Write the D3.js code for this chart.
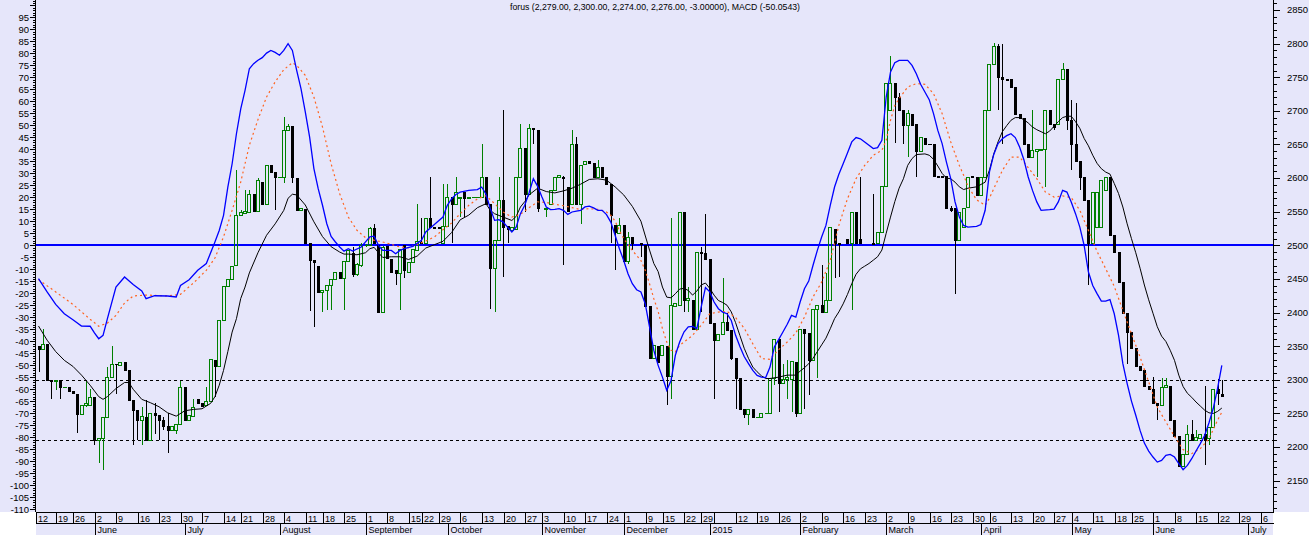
<!DOCTYPE html>
<html><head><meta charset="utf-8">
<script src="https://cdn.jsdelivr.net/npm/d3@7"></script>
<style>html,body{margin:0;padding:0;background:#fff}svg{display:block}</style>
</head><body>
<svg id="chart" width="1309" height="535"></svg>
<script>
// ---------------- DATA ----------------
const titleText = "forus (2,279.00, 2,300.00, 2,274.00, 2,276.00, -3.00000), MACD (-50.0543)";
const firstDay = "2014-05-12", lastAxisDay = "2015-07-07";
const holidays = ["2014-05-21","2014-07-16","2014-08-15","2014-09-18","2014-09-19","2014-10-31","2014-12-08","2014-12-25","2014-12-31","2015-01-01","2015-04-03","2015-05-01","2015-05-21"];
const noTradeDays = ["2014-09-26","2014-11-28"];
const hiddenWeekLabels = ["2015-01-05"];
const monthNames = ["January","February","March","April","May","June","July","August","September","October","November","December"];
const macdTicks = d3.range(-110, 96, 5);
const priceTicks = d3.range(2150, 2851, 50);
const refLevels = [2300, 2210];

const openV = [
2350,2346,2354,2300,2298,2300,2289,2290,2284,2279,
2249,2262,2262,2275,2211,2214,2244,2304,2324,2322,
2326,2314,2270,2255,2241,2245,2211,2250,2247,2240,
2232,2226,2226,2235,2289,2241,2246,2272,2266,2262,
2268,2330,2320,2389,2439,2450,2471,2545,2548,2550,
2576,2551,2594,2562,2620,2609,2602,2602,2671,2677,
2600,2553,2554,2504,2478,2469,2431,2433,2441,2450,
2460,2452,2476,2489,2457,2471,2500,2500,2526,2500,
2401,2499,2480,2463,2459,2500,2461,2475,2493,2505,
2503,2540,2527,2527,2503,2529,2572,2562,2570,2579,
2571,2572,2572,2572,2602,2562,2466,2508,2567,2529,
2523,2525,2602,2645,2577,2675,2671,null,2554,2562,
2582,2601,2602,2587,2562,2651,2562,2621,2626,2622,
2602,2617,2601,2591,2530,2519,2531,2476,2512,null,
2503,2500,2410,2332,2350,2337,2350,2305,2410,2411,
2550,2419,2419,2376,2490,2488,2480,2384,2359,2368,
2386,2374,2332,2302,2257,2249,2257,2244,2244,2251,
2251,2302,2360,2296,2301,2301,2327,2250,2376,2370,
2329,2406,2411,2401,2418,2525,2503,null,2510,2503,
2550,2510,null,null,2503,2503,2520,2588,2701,2741,
2721,2702,2679,2696,2680,2641,2660,2651,2650,2603,
2603,2603,2556,2555,2508,2528,2557,2603,2602,2575,
2602,2701,2769,2796,2751,2747,2747,2735,2696,2690,
2650,2632,2641,2642,2644,2701,2681,2681,2747,2762,
2686,2651,2626,2602,2568,2503,2528,2528,2582,2602,
2515,2490,2446,2400,2371,2347,2320,2314,2291,2287,
2266,2262,2290,2291,2241,2216,2172,2189,2220,2211,
2213,2220,2213,2230,2286,2279];
const highV = [
2350,2376,2354,2300,2300,2300,2290,2290,2284,2279,
2262,2299,2287,2275,2214,2244,2319,2350,2324,2326,
2326,2314,2270,2255,2259,2270,2250,2265,2247,2245,
2250,2232,2235,2299,2289,2247,2272,2272,2266,2290,
2331,2330,2389,2439,2450,2470,2612,2552,2582,2582,
2576,2600,2594,2620,2620,2609,2602,2691,2681,2677,
2600,2556,2554,2504,2478,2469,2433,2441,2450,2460,
2460,2476,2493,2498,2474,2503,2502,2527,2532,2500,
2499,2499,2480,2463,2495,2500,2475,2494,2562,2540,
2540,2602,2527,2527,2591,2591,2572,2601,2572,2579,
2572,2572,2572,2650,2602,2562,2508,2602,2701,2529,
2528,2602,2680,2645,2680,2675,2671,null,2556,2582,
2602,2604,2603,2587,2671,2661,2619,2626,2626,2622,
2627,2617,2601,2591,2530,2541,2531,2520,2512,null,
2503,2500,2410,2352,2350,2352,2350,2540,2415,2550,
2550,2438,2419,2490,2498,2547,2480,2384,2368,2451,
2399,2374,2332,2302,2257,2257,2257,2244,2250,2251,
2302,2360,2360,2324,2329,2328,2327,2376,2376,2370,
2406,2411,2471,2459,2527,2525,2503,null,2510,2550,
2550,2602,null,null,2577,2520,2588,2742,2781,2741,
2726,2702,2702,2696,2680,2661,2660,2651,2650,2603,
2603,2603,2558,2555,2550,2555,2602,2603,2602,2602,
2701,2769,2801,2800,2800,2747,2747,2735,2696,2690,
2650,2701,2643,2644,2702,2701,2681,2747,2771,2762,
2716,2712,2626,2602,2568,2580,2580,2597,2602,2602,
2515,2490,2446,2400,2371,2347,2320,2314,2291,2304,
2266,2302,2302,2291,2241,2216,2189,2233,2240,2225,
2220,2291,2230,2286,2301,2300];
const lowV = [
2312,2346,2300,2272,2285,2272,2289,2284,2280,2221,
2249,2260,2262,2203,2176,2166,2244,2304,2279,2322,
2314,2270,2203,2210,2203,2211,2211,2220,2211,2225,
2191,2226,2220,2235,2241,2241,2246,2266,2261,2262,
2268,2274,2320,2389,2439,2450,2471,2545,2548,2550,
2551,2551,2562,2562,2609,2552,2602,2592,2671,2593,
2552,2553,2504,2403,2379,2431,2401,2404,2404,2450,
2452,2404,2476,2453,2455,2468,2498,2500,2503,2401,
2401,2481,2461,2441,2404,2451,2461,2475,2493,2503,
2503,2527,2526,2526,2503,2529,2503,2562,2542,2542,
2571,2572,2572,2572,2562,2406,2401,2508,2453,2503,
2523,2525,2602,2550,2577,2651,2550,null,2542,2562,
2582,2601,2471,2551,2562,2562,2532,2621,2622,2602,
2602,2602,2591,2503,2464,2519,2476,2473,2493,null,
2483,2410,2332,2332,2327,2337,2262,2272,2410,2411,
2401,2401,2376,2376,2401,2480,2384,2272,2359,2368,
2374,2329,2257,2257,2243,2233,2244,2244,2244,2251,
2251,2292,2252,2296,2272,2252,2245,2250,2257,2277,
2329,2302,2401,2401,2418,2451,2453,null,2503,2404,
2503,2503,null,null,2502,2503,2520,2588,2701,2652,
2702,2651,2632,2679,2602,2641,2651,2650,2603,2602,
2602,2556,2550,2428,2508,2528,2557,2601,2575,2575,
2602,2701,2769,2701,2651,2746,2736,2696,2690,2651,
2632,2632,2602,2642,2587,2681,2671,2681,2747,2671,
2612,2626,2582,2568,2441,2503,2528,2528,2582,2515,
2490,2446,2400,2324,2347,2320,2314,2291,2287,2266,
2240,2262,2290,2241,2216,2172,2172,2189,2211,2211,
2213,2173,2203,2230,2262,2274];
const closeV = [
2346,2354,2300,2298,2300,2290,2290,2284,2280,2249,
2262,2265,2275,2211,2214,2244,2304,2324,2323,2326,
2314,2270,2255,2240,2246,2211,2250,2248,2240,2231,
2226,2232,2235,2289,2241,2247,2259,2266,2261,2268,
2331,2320,2389,2439,2450,2470,2545,2550,2551,2576,
2551,2597,2562,2620,2609,2602,2602,2671,2677,2602,
2552,2556,2504,2478,2475,2431,2433,2441,2450,2460,
2452,2476,2493,2458,2472,2500,2500,2526,2503,2401,
2498,2481,2461,2459,2495,2463,2475,2494,2506,2503,
2540,2527,2526,2526,2529,2572,2562,2579,2572,2571,
2572,2572,2572,2602,2562,2466,2508,2568,2528,2525,
2528,2602,2645,2577,2675,2673,2555,null,2556,2582,
2602,2604,2600,2551,2651,2562,2619,2626,2622,2602,
2617,2602,2591,2545,2520,2530,2476,2512,2503,null,
2502,2410,2332,2352,2327,2352,2305,2411,2415,2550,
2419,2422,2376,2490,2488,2480,2384,2359,2368,2386,
2374,2333,2302,2257,2249,2257,2244,2244,2250,2251,
2302,2360,2296,2301,2304,2328,2250,2376,2370,2329,
2406,2411,2401,2418,2527,2503,2502,null,2503,2550,
2503,2503,null,null,2502,2520,2588,2742,2741,2721,
2702,2679,2697,2679,2641,2661,2651,2650,2603,2602,
2602,2556,2552,2508,2550,2555,2602,2601,2575,2602,
2701,2769,2796,2751,2747,2746,2736,2696,2690,2651,
2632,2642,2643,2644,2702,2681,2676,2747,2762,2686,
2651,2626,2602,2568,2503,2580,2580,2597,2602,2515,
2490,2446,2400,2371,2347,2320,2314,2291,2287,2266,
2262,2290,2292,2241,2216,2172,2189,2220,2211,2215,
2220,2211,2230,2286,2280,2276];

// [trading-day index, value]
const macdLine = [[0,-13.9],[2,-19.4],[4,-24.6],[6,-28.5],[8,-31],[10,-33.6],[12,-33.7],[13,-36.5],[14,-38.9],[15,-37.5],[16,-30.6],[18,-17.4],[20,-13.2],[22,-16.3],[24,-19],[25,-22.2],[27,-21],[30,-21.1],[32,-21.5],[33,-16.7],[35,-14.3],[37,-10.4],[39,-7.6],[41,1.4],[42,6.2],[43,12.5],[44,24.3],[45,34],[46,46.5],[47,56.9],[48,64.6],[49,73.6],[50,75.7],[51,77.1],[52,78.2],[53,80.1],[54,81.2],[55,80.4],[56,79.2],[57,81.2],[58,84],[59,81.2],[60,72.9],[61,65.3],[62,55.6],[63,45.2],[64,32],[65,23.6],[66,16.7],[67,9],[68,3.7],[69,1.4],[70,-0.7],[71,-2.4],[72,-1.4],[73,-2.4],[75,-0.7],[77,3.5],[78,3.8],[79,0],[80,-2.1],[82,-2.1],[83,-3.5],[84,-2.1],[85,-1.4],[87,-0.4],[89,2.1],[90,5.6],[92,8.7],[94,11.8],[95,16.7],[96,19.4],[97,21.2],[98,22.2],[100,22.9],[102,23.2],[103,24.3],[104,21.3],[105,15.3],[106,10.4],[107,10.7],[108,9.7],[109,7.6],[110,5.6],[111,7.6],[112,13.2],[113,16.7],[114,21.8],[115,27.8],[116,24.6],[117,20.1],[118,16],[119,14.9],[120,15],[121,15.3],[122,14.6],[123,12.9],[124,13.9],[125,14.3],[126,14.6],[127,16],[128,16.3],[129,15.6],[130,14.6],[131,14.6],[132,12.8],[133,9.7],[134,4.2],[135,-1.4],[136,-6.3],[137,-11.8],[138,-16],[139,-18.5],[140,-19.4],[141,-24.3],[142,-34],[143,-43.8],[144,-50],[145,-54.9],[146,-60.4],[147,-56.3],[148,-45.8],[149,-40.3],[150,-36.1],[151,-34],[152,-33.8],[153,-34.7],[154,-25.7],[155,-17.6],[156,-19.4],[157,-23.6],[158,-26.4],[159,-27.8],[160,-28.5],[161,-31.3],[162,-37.5],[163,-42.1],[164,-46.3],[165,-49.3],[166,-52.1],[167,-54.2],[168,-54.9],[169,-55.1],[170,-50.7],[171,-42.4],[172,-39.3],[173,-36.1],[174,-32.9],[175,-29.2],[176,-29.9],[177,-23.6],[178,-18.1],[179,-14.9],[180,-8.3],[181,-2.1],[182,3.5],[183,8.3],[184,16.7],[185,24.3],[186,29.6],[187,34],[188,38.5],[189,43.1],[190,44.9],[191,44.4],[192,43.1],[193,41.7],[194,40.3],[195,40.7],[196,43.8],[197,61.8],[198,72.2],[199,76.1],[200,77.1],[202,77.1],[203,75],[204,71.5],[205,67.1],[206,63.9],[207,60.7],[208,54.9],[209,47.9],[210,42.4],[211,34.7],[212,27.8],[213,18.1],[214,11.8],[215,8.3],[216,7.6],[218,7.9],[219,8.7],[220,14.6],[221,30.6],[222,37.9],[223,42.4],[224,44.4],[225,45.7],[226,46.5],[227,44.9],[228,41],[229,35.7],[230,28.5],[231,22.9],[232,18.1],[233,14.6],[235,14.9],[236,15.1],[237,18.1],[238,22.9],[239,22.2],[240,18.1],[241,13.2],[242,7.6],[243,0],[244,-11.1],[245,-16.7],[246,-20.1],[247,-23.2],[248,-23.2],[249,-22.6],[250,-28.5],[251,-37.5],[252,-49.3],[253,-57.6],[254,-64.9],[255,-70.8],[256,-77.1],[257,-82.4],[258,-85.7],[259,-88.2],[260,-90.3],[261,-89.6],[262,-87.5],[263,-87.1],[264,-88.2],[265,-91],[266,-93.5],[267,-91.7],[268,-88.9],[269,-85.7],[270,-82.6],[271,-79.2],[272,-74],[273,-68],[274,-59.7],[275,-50.05]];
const signalLine = [[0,-14.3],[4,-19.4],[8,-24.6],[12,-30.8],[14,-33.7],[16,-32.4],[18,-29.2],[20,-24],[22,-21.1],[25,-20.7],[30,-21.1],[33,-20.4],[36,-15.7],[39,-10.4],[41,-5.3],[43,3.5],[45,14.6],[47,26.4],[49,41.7],[51,52.4],[53,61.8],[55,68.1],[57,73.2],[59,76.1],[60,75],[62,70.8],[64,61.8],[66,49.3],[68,34],[70,21.5],[72,11.8],[74,6.3],[76,3.2],[78,2.1],[80,1.4],[82,0.4],[84,-0.7],[86,-1],[88,0.4],[90,1.8],[92,3.5],[94,6.5],[96,9.3],[98,13.2],[100,16.7],[102,19.4],[104,20.7],[106,17.4],[108,13.9],[110,11.8],[112,12.9],[114,15.7],[116,18.1],[118,17.9],[120,17.1],[122,16.5],[124,15.7],[126,14.9],[128,15.3],[130,15],[132,13.9],[133,12.5],[134,10.1],[135,6.2],[136,2.8],[138,-2.1],[140,-6.3],[141,-10.4],[142,-16],[143,-22.2],[144,-27.5],[145,-34.7],[146,-40.3],[147,-43.7],[148,-44.4],[149,-41.7],[150,-40.3],[152,-37.5],[154,-33.3],[156,-28.5],[158,-27.8],[160,-27.5],[162,-30.1],[164,-34.5],[166,-41],[168,-47.2],[170,-47.5],[172,-43.5],[174,-40.3],[176,-36.5],[178,-29.9],[180,-21.5],[182,-15.3],[184,-6.3],[186,8.3],[188,19.4],[190,27.8],[192,33.3],[194,37.5],[196,39.6],[197,43.8],[198,52.1],[199,58.3],[200,61.1],[202,66],[204,67.4],[206,67.1],[208,63.2],[210,54.9],[212,43.1],[214,33.3],[215,29.2],[216,24.6],[218,19],[220,16.7],[221,19.7],[222,23.6],[224,31.2],[226,36.8],[228,36.8],[230,32.4],[232,27.8],[234,22.2],[236,20.1],[238,20.6],[240,19.9],[242,14.6],[244,6.2],[246,-2.5],[248,-9.7],[250,-17.1],[252,-27.1],[254,-36.8],[256,-46.5],[258,-56.9],[260,-67.4],[262,-73.6],[264,-79.6],[266,-85.1],[268,-86.8],[270,-84.7],[272,-80.6],[274,-72.9],[275,-69.5]];
const avgLine = [[0,2380],[2,2359],[4,2342],[6,2329],[8,2320],[10,2307],[12,2292],[14,2275],[15,2271],[16,2275],[18,2287],[20,2296],[21,2296],[22,2286],[24,2271],[26,2266],[28,2260],[30,2251],[32,2246],[34,2254],[36,2256],[38,2257],[40,2265],[41,2275],[42,2292],[43,2314],[44,2342],[45,2371],[46,2391],[47,2421],[48,2438],[49,2459],[51,2489],[53,2515],[55,2532],[57,2552],[58,2570],[59,2576],[60,2575],[62,2560],[64,2535],[66,2513],[68,2498],[70,2490],[71,2487],[72,2487],[74,2486],[76,2489],[77,2495],[78,2497],[79,2489],[80,2482],[82,2483],[84,2483],[86,2479],[88,2484],[90,2496],[92,2501],[94,2506],[96,2519],[98,2538],[100,2545],[102,2556],[104,2562],[105,2552],[106,2547],[108,2542],[110,2537],[111,2543],[112,2557],[113,2565],[114,2575],[116,2585],[118,2580],[120,2578],[122,2581],[124,2585],[126,2591],[128,2598],[130,2599],[132,2597],[134,2587],[136,2575],[138,2558],[140,2536],[142,2493],[143,2473],[144,2461],[145,2438],[146,2423],[147,2422],[148,2428],[149,2435],[150,2436],[151,2433],[152,2426],[153,2432],[154,2441],[155,2444],[156,2436],[157,2426],[158,2418],[159,2415],[160,2411],[161,2401],[162,2385],[163,2366],[164,2347],[165,2332],[166,2319],[167,2312],[168,2306],[169,2302],[170,2302],[172,2304],[174,2307],[176,2307],[177,2313],[178,2318],[179,2324],[180,2332],[181,2342],[182,2352],[183,2362],[184,2376],[185,2391],[186,2401],[187,2413],[188,2427],[189,2443],[190,2457],[191,2465],[192,2469],[193,2473],[194,2478],[195,2483],[196,2493],[197,2518],[198,2542],[199,2565],[200,2585],[201,2599],[202,2619],[203,2629],[204,2635],[206,2636],[207,2634],[208,2628],[209,2618],[210,2607],[211,2600],[212,2599],[213,2594],[214,2587],[215,2583],[216,2585],[218,2587],[220,2594],[221,2612],[222,2636],[223,2654],[224,2669],[225,2678],[226,2686],[227,2690],[228,2690],[229,2687],[230,2682],[231,2676],[232,2672],[233,2669],[234,2666],[235,2670],[236,2677],[237,2684],[238,2690],[239,2692],[240,2692],[241,2684],[242,2674],[243,2659],[244,2648],[245,2634],[246,2622],[247,2614],[248,2609],[249,2606],[250,2592],[251,2577],[252,2557],[253,2532],[254,2510],[255,2489],[256,2466],[257,2441],[258,2419],[259,2399],[260,2379],[261,2365],[262,2357],[263,2344],[264,2329],[265,2307],[266,2290],[267,2280],[268,2274],[269,2267],[270,2261],[271,2255],[272,2251],[273,2250],[274,2253],[275,2258]];

// ---------------- LAYOUT ----------------
const W = 1309, H = 535;
const PL = 36, PR = 1273, PB = 512;
const BG = "#E6E6FA", UP = "#008000", DOWN = "#000000", ZERO = "#0000FF";
const FONT = "Liberation Sans, Arial, sans-serif";

// trading calendar
const off = new Set([...holidays, ...noTradeDays]);
const dates = [];
for (let t = Date.parse(firstDay + "T00:00:00Z"); t <= Date.parse(lastAxisDay + "T00:00:00Z"); t += 86400000) {
  const d = new Date(t), wd = d.getUTCDay();
  if (wd === 0 || wd === 6) continue;
  if (off.has(d.toISOString().slice(0, 10))) continue;
  dates.push(d);
}
const N = dates.length;
const xSlot = d3.scaleLinear().domain([0, N]).range([34.5, 34.5 + 4.303 * N]);
const cx = i => xSlot(i) + 4;

const yPrice = d3.scaleLinear().domain([2150, 2850]).range([480.7, 10]);
const yMacd = d3.scaleLinear().domain([0, 95]).range([yPrice(2500), yPrice(2500) - 95 * 2.4]);

const svg = d3.select("#chart");
svg.append("rect").attr("width", W).attr("height", H).attr("fill", "#fff");
svg.append("rect").attr("x", 0).attr("y", 0).attr("width", W).attr("height", PB).attr("fill", BG);
svg.append("rect").attr("x", PL).attr("y", PB).attr("width", PR - PL).attr("height", H - PB).attr("fill", BG);

svg.append("defs").append("clipPath").attr("id", "plotclip")
  .append("rect").attr("x", PL).attr("y", 0).attr("width", PR - PL).attr("height", PB);

// title
svg.append("text").attr("x", 655).attr("y", 10).attr("text-anchor", "middle")
  .attr("font-family", FONT).attr("font-size", 9.5).attr("fill", "#000")
  .attr("textLength", 290).attr("lengthAdjust", "spacingAndGlyphs").text(titleText);

const plot = svg.append("g").attr("clip-path", "url(#plotclip)");

// reference levels (dashed)
plot.selectAll("line.ref").data(refLevels).join("line").attr("class", "ref")
  .attr("x1", PL).attr("x2", PR)
  .attr("y1", d => Math.round(yPrice(d)) + 0.5).attr("y2", d => Math.round(yPrice(d)) + 0.5)
  .attr("stroke", "#000").attr("stroke-width", 1).attr("stroke-dasharray", "3,3")
  .attr("shape-rendering", "crispEdges");

// zero line (MACD 0 / price 2500)
const y0 = Math.round(yMacd(0));
plot.append("rect").attr("x", PL).attr("y", y0 - 1).attr("width", PR - PL).attr("height", 2)
  .attr("fill", ZERO).attr("shape-rendering", "crispEdges");

// candles
const candles = openV.map((o, i) => ({ i, o, h: highV[i], l: lowV[i], c: closeV[i] }))
  .filter(d => d.o != null);
candles.forEach(d => {
  d.up = d.c >= d.o;
  d.xr = Math.round(cx(d.i));
  d.yt = Math.round(yPrice(Math.max(d.o, d.c)));
  d.yb = Math.round(yPrice(Math.min(d.o, d.c)));
  d.yh = Math.round(yPrice(d.h));
  d.yl = Math.round(yPrice(d.l));
});
const cg = plot.append("g").attr("shape-rendering", "crispEdges");
candles.forEach(d => {
  const col = d.up ? UP : DOWN;
  const x = d.xr + 0.5;
  if (d.yh < d.yt) cg.append("line").attr("x1", x).attr("x2", x).attr("y1", d.yh).attr("y2", d.yt).attr("stroke", col);
  if (d.yl > d.yb) cg.append("line").attr("x1", x).attr("x2", x).attr("y1", d.yb).attr("y2", d.yl).attr("stroke", col);
});
candles.forEach(d => {
  const hgt = d.yb - d.yt;
  if (hgt < 1) {
    cg.append("line").attr("x1", d.xr - 1.5).attr("x2", d.xr + 2.5)
      .attr("y1", d.yt + 0.5).attr("y2", d.yt + 0.5).attr("stroke", d.up ? UP : DOWN);
  } else if (d.up) {
    cg.append("rect").attr("x", d.xr - 1.5).attr("y", d.yt + 0.5).attr("width", 3).attr("height", hgt)
      .attr("fill", "none").attr("stroke", UP).attr("stroke-width", 1);
  } else {
    cg.append("rect").attr("x", d.xr - 1).attr("y", d.yt).attr("width", 3).attr("height", hgt + 1)
      .attr("fill", DOWN);
  }
});

// lines
plot.append("path").datum(avgLine)
  .attr("d", d3.line().x(d => cx(d[0])).y(d => yPrice(d[1])))
  .attr("fill", "none").attr("stroke", "#000").attr("stroke-width", 1);
plot.append("path").datum(signalLine)
  .attr("d", d3.line().x(d => cx(d[0])).y(d => yMacd(d[1])))
  .attr("fill", "none").attr("stroke", "#FF6420").attr("stroke-width", 1.2).attr("stroke-dasharray", "2,3");
plot.append("path").datum(macdLine)
  .attr("d", d3.line().x(d => cx(d[0])).y(d => yMacd(d[1])))
  .attr("fill", "none").attr("stroke", "#0000FF").attr("stroke-width", 1.3);

// left axis (MACD)
const la = svg.append("g").attr("shape-rendering", "crispEdges");
la.append("line").attr("x1", PL - 0.5).attr("x2", PL - 0.5).attr("y1", 0).attr("y2", PB).attr("stroke", "#000");
d3.range(-113, 103, 1).forEach(v => {
  const y = Math.round(yMacd(v)) + 0.5;
  if (y < 0 || y > PB) return;
  const major = v % 5 === 0;
  la.append("line").attr("x1", PL - (major ? 6 : 3)).attr("x2", PL).attr("y1", y).attr("y2", y).attr("stroke", "#000");
});
la.selectAll("text").data(macdTicks).join("text")
  .attr("x", 29).attr("y", d => yMacd(d)).attr("dy", "0.35em").attr("text-anchor", "end")
  .attr("font-family", FONT).attr("font-size", 9.5).attr("fill", "#000").text(d => d);

// right axis (price)
const ra = svg.append("g").attr("shape-rendering", "crispEdges");
ra.append("line").attr("x1", PR + 0.5).attr("x2", PR + 0.5).attr("y1", 0).attr("y2", PB).attr("stroke", "#000");
d3.range(2110, 2870, 10).forEach(v => {
  const y = Math.round(yPrice(v)) + 0.5;
  if (y < 0 || y > PB) return;
  const major = v % 50 === 0;
  ra.append("line").attr("x1", PR).attr("x2", PR + (major ? 7 : 4)).attr("y1", y).attr("y2", y).attr("stroke", "#000");
});
ra.selectAll("text").data(priceTicks).join("text")
  .attr("x", 1287).attr("y", d => yPrice(d)).attr("dy", "0.35em")
  .attr("font-family", FONT).attr("font-size", 9.5).attr("fill", "#000").text(d => d);

// bottom date axis
const ba = svg.append("g").attr("shape-rendering", "crispEdges");
ba.append("line").attr("x1", PL).attr("x2", PR + 1).attr("y1", PB + 0.5).attr("y2", PB + 0.5).attr("stroke", "#000");
ba.append("line").attr("x1", PL).attr("x2", PR + 1).attr("y1", PB + 11.5).attr("y2", PB + 11.5).attr("stroke", "#000");
const mondayKey = d => d.getTime() - ((d.getUTCDay() + 6) % 7) * 86400000;
const weekStarts = dates.map((d, i) => i).filter(i => i === 0 || mondayKey(dates[i]) !== mondayKey(dates[i - 1]));
const monthStarts = dates.map((d, i) => i).filter(i => i > 0 && dates[i].getUTCMonth() !== dates[i - 1].getUTCMonth());
weekStarts.forEach(i => {
  const x = Math.max(PL, Math.round(xSlot(i))) + 0.5;
  if (x > PR) return;
  ba.append("line").attr("x1", x).attr("x2", x).attr("y1", PB).attr("y2", PB + 12).attr("stroke", "#000");
  if (hiddenWeekLabels.includes(dates[i].toISOString().slice(0, 10))) return;
  ba.append("text").attr("x", x + 1.5).attr("y", PB + 9.5)
    .attr("font-family", FONT).attr("font-size", 9).attr("fill", "#000").text(dates[i].getUTCDate());
});
monthStarts.forEach(i => {
  const x = Math.round(xSlot(i)) + 0.5;
  const m = dates[i].getUTCMonth();
  ba.append("line").attr("x1", x).attr("x2", x).attr("y1", PB + 12).attr("y2", H).attr("stroke", "#000");
  ba.append("text").attr("x", x + 2).attr("y", PB + 21)
    .attr("font-family", FONT).attr("font-size", 9).attr("fill", "#000")
    .text(m === 0 ? String(dates[i].getUTCFullYear()) : monthNames[m]);
});
</script>
</body></html>
